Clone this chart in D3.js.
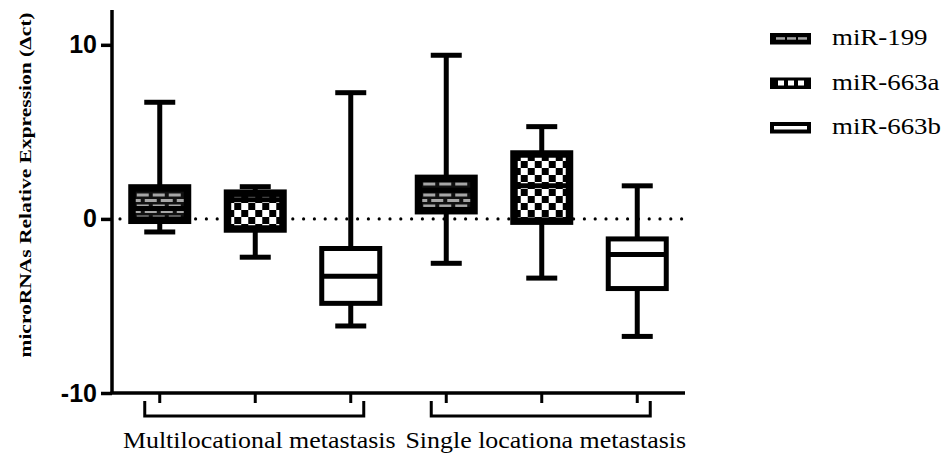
<!DOCTYPE html>
<html>
<head>
<meta charset="utf-8">
<script src="https://cdn.jsdelivr.net/npm/d3@7"></script>
<style>
  body { margin: 0; background: #fff; }
  svg { display: block; }
</style>
</head>
<body>
<div id="chart"></div>
<script>
//////////////////////////////////////////////////////////////////////////////
// Data

var groups = ["Multilocational metastasis", "Single locationa metastasis"];
var series = ["miR-199", "miR-663a", "miR-663b"];

// one entry per box: group x series, in that order
var whiskerLow = [-0.75, -2.2, -6.15, -2.55, -3.4, -6.75];
var q1 =         [-0.15, -0.65, -4.85, 0.4, -0.2, -4.0];
var median =     [0.6, 1.1, -3.3, 1.65, 1.9, -2.05];
var q3 =         [1.85, 1.55, -1.7, 2.4, 3.8, -1.15];
var whiskerHigh = [6.7, 1.85, 7.25, 9.4, 5.3, 1.9];

var yTicks = [-10, 0, 10];

var boxes = [];
groups.forEach(function(g, gi) {
    series.forEach(function(s, si) {
        var i = gi * series.length + si;
        boxes.push({
            key: g + "|" + s, group: g, series: s, si: si,
            lo: whiskerLow[i], q1: q1[i], med: median[i], q3: q3[i], hi: whiskerHigh[i]
        });
    });
});

//////////////////////////////////////////////////////////////////////////////
// Setup

var width = 946, height = 455;
var plotLeft = 112, plotRight = 685, plotTop = 10, plotBottom = 393;
var serif = "'Liberation Serif', 'Times New Roman', serif";

var svg = d3.select("#chart").append("svg")
    .attr("width", width)
    .attr("height", height);

var xScale = d3.scaleBand()
    .domain(boxes.map(function(d) { return d.key; }))
    .range([plotLeft, plotRight]);

var yScale = d3.scaleLinear().domain([-10, 12]).range([plotBottom, plotTop]);

var fills = ["url(#brick)", "url(#checker)", "#fff"];

// patterns
var defs = svg.append("defs");

var brick = defs.append("pattern")
    .attr("id", "brick")
    .attr("patternUnits", "userSpaceOnUse")
    .attr("width", 16).attr("height", 11);
brick.append("rect").attr("width", 16).attr("height", 11).attr("fill", "#111");
brick.append("rect").attr("x", 1).attr("y", 1).attr("width", 12).attr("height", 3).attr("fill", "#a6a6a6");
brick.append("rect").attr("x", 9).attr("y", 6.5).attr("width", 7).attr("height", 3).attr("fill", "#a6a6a6");
brick.append("rect").attr("x", 0).attr("y", 6.5).attr("width", 5).attr("height", 3).attr("fill", "#a6a6a6");

var checker = defs.append("pattern")
    .attr("id", "checker")
    .attr("patternUnits", "userSpaceOnUse")
    .attr("width", 14).attr("height", 14);
checker.append("rect").attr("width", 14).attr("height", 14).attr("fill", "#fff");
checker.append("rect").attr("width", 7).attr("height", 7).attr("fill", "#000");
checker.append("rect").attr("x", 7).attr("y", 7).attr("width", 7).attr("height", 7).attr("fill", "#000");

//////////////////////////////////////////////////////////////////////////////
// Axes

var yAxis = svg.append("g")
    .attr("transform", "translate(" + plotLeft + ",0)")
    .call(d3.axisLeft(yScale).tickValues(yTicks).tickSize(11).tickPadding(4)
        .tickFormat(function(d) { return String(d); }));
yAxis.select(".domain").attr("d", "M0," + plotTop + "V" + plotBottom).attr("stroke-width", 3.5);
yAxis.selectAll(".tick line").attr("stroke-width", 3.5);
yAxis.selectAll(".tick text")
    .attr("font-family", "'Liberation Sans', Arial, sans-serif")
    .attr("font-weight", "bold")
    .attr("font-size", 25)
    .attr("fill", "#000");

var xAxis = svg.append("g")
    .attr("transform", "translate(0," + plotBottom + ")")
    .call(d3.axisBottom(xScale).tickSize(10).tickFormat(""));
xAxis.select(".domain").attr("d", "M" + (plotLeft - 1.5) + ",0H" + plotRight).attr("stroke-width", 3.5);
xAxis.selectAll(".tick line").attr("stroke-width", 3);

// group brackets
var bracket = svg.append("g");
groups.forEach(function(g) {
    var keys = boxes.filter(function(d) { return d.group === g; }).map(function(d) { return d.key; });
    var x0 = xScale(keys[0]) + xScale.bandwidth() / 2 - 15;
    var x1 = xScale(keys[keys.length - 1]) + xScale.bandwidth() / 2 + 13;
    bracket.append("path")
        .attr("d", "M" + x0 + "," + (plotBottom + 8) + "V" + (plotBottom + 23) + "H" + x1 + "V" + (plotBottom + 8))
        .attr("fill", "none")
        .attr("stroke", "#000")
        .attr("stroke-width", 3);
    bracket.append("text")
        .attr("transform", "translate(" + ((x0 + x1) / 2 + 5) + ",448) scale(1.08,1)")
        .attr("text-anchor", "middle")
        .attr("font-family", serif)
        .attr("font-size", 24)
        .text(g);
});

// y title
svg.append("text")
    .attr("transform", "translate(31,185) rotate(-90)")
    .attr("text-anchor", "middle")
    .attr("font-family", serif)
    .attr("font-weight", "bold")
    .attr("font-size", 17)
    .attr("textLength", 345)
    .attr("lengthAdjust", "spacingAndGlyphs")
    .text("microRNAs Relative Expression (\u0394ct)");

// zero reference line
svg.append("line")
    .attr("x1", plotLeft + 8).attr("x2", plotRight)
    .attr("y1", yScale(0)).attr("y2", yScale(0))
    .attr("stroke", "#000")
    .attr("stroke-width", 3.2)
    .attr("stroke-linecap", "round")
    .attr("stroke-dasharray", "0,10.8");

//////////////////////////////////////////////////////////////////////////////
// Boxes

var boxW = 58, capW = 31, sw = 5;

var bx = svg.append("g")
    .selectAll("g")
    .data(boxes)
    .enter()
    .append("g")
    .attr("transform", function(d) {
        return "translate(" + (xScale(d.key) + xScale.bandwidth() / 2) + ",0)";
    });

// whiskers
bx.append("line")
    .attr("x1", 0).attr("x2", 0)
    .attr("y1", function(d) { return yScale(d.hi); })
    .attr("y2", function(d) { return yScale(d.lo); })
    .attr("stroke", "#000").attr("stroke-width", sw);
bx.selectAll(".cap")
    .data(function(d) { return [d.lo, d.hi]; })
    .enter()
    .append("line")
    .attr("class", "cap")
    .attr("x1", -capW / 2).attr("x2", capW / 2)
    .attr("y1", function(v) { return yScale(v); })
    .attr("y2", function(v) { return yScale(v); })
    .attr("stroke", "#000").attr("stroke-width", sw);

// box body
bx.append("rect")
    .attr("x", -boxW / 2)
    .attr("y", function(d) { return yScale(d.q3); })
    .attr("width", boxW)
    .attr("height", function(d) { return yScale(d.q1) - yScale(d.q3); })
    .attr("fill", function(d) { return d.si === 2 ? "#fff" : "#000"; })
    .attr("stroke", "#000").attr("stroke-width", sw);

// patterned inside
bx.filter(function(d) { return d.si < 2; })
    .append("rect")
    .attr("x", -boxW / 2 + 5)
    .attr("y", function(d) { return yScale(d.q3) + 5; })
    .attr("width", boxW - 10)
    .attr("height", function(d) { return Math.max(0, yScale(d.q1) - yScale(d.q3) - 10); })
    .attr("fill", function(d) { return fills[d.si]; });

// median
bx.append("line")
    .attr("x1", -boxW / 2).attr("x2", boxW / 2)
    .attr("y1", function(d) { return yScale(d.med); })
    .attr("y2", function(d) { return yScale(d.med); })
    .attr("stroke", "#000").attr("stroke-width", sw);

//////////////////////////////////////////////////////////////////////////////
// Legend

var lg = svg.append("g")
    .selectAll("g")
    .data(series)
    .enter()
    .append("g")
    .attr("transform", function(d, i) { return "translate(770," + (33 + i * 44.5) + ")"; });

lg.append("rect")
    .attr("x", 2).attr("y", 2)
    .attr("width", 37).attr("height", 7.5)
    .attr("fill", function(d, i) { return i === 2 ? "#fff" : "#000"; })
    .attr("stroke", "#000").attr("stroke-width", 4);

lg.filter(function(d, i) { return i === 0; })
    .selectAll(".dash")
    .data([0, 1, 2])
    .enter()
    .append("rect")
    .attr("x", function(k) { return 6 + k * 11; })
    .attr("y", 4.2).attr("width", 9).attr("height", 2.5)
    .attr("fill", "#a6a6a6");

lg.filter(function(d, i) { return i === 1; })
    .selectAll(".sq")
    .data([0, 1, 2])
    .enter()
    .append("rect")
    .attr("x", function(k) { return 8 + k * 10; })
    .attr("y", 3).attr("width", 6).attr("height", 5)
    .attr("fill", "#fff");

lg.append("text")
    .attr("transform", "translate(62,12) scale(1.12,1)")
    .attr("font-family", serif)
    .attr("font-size", 24)
    .text(function(d) { return d; });
</script>
</body>
</html>
